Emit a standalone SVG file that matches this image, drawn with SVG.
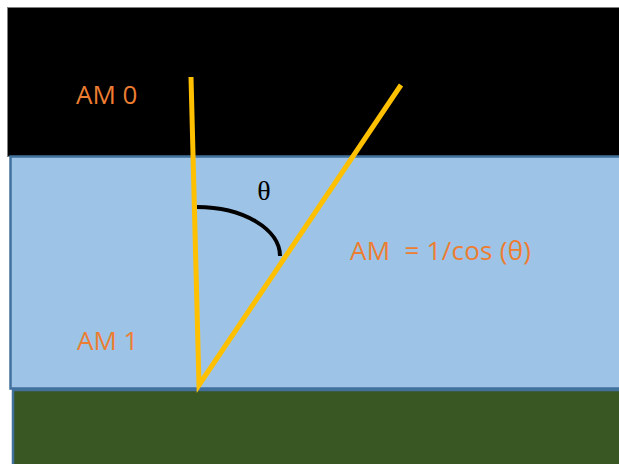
<svg xmlns="http://www.w3.org/2000/svg" width="619" height="464" viewBox="0 0 619 464">
<style>
.lbl{font-family:"Open Sans","Noto Sans","Liberation Sans",sans-serif;font-size:26px;fill:#ED7D31}
.ray{stroke:#FFC000;stroke-width:5;fill:none;stroke-linecap:butt}
.layer{stroke:#41719C;stroke-width:2.5}
</style>
<rect width="619" height="464" fill="#ffffff"/>
<g id="sky">
<rect x="7.5" y="7.5" width="620" height="149" fill="#000000" stroke="#7F7F7F" stroke-width="1"/>
<text class="lbl" x="76" y="104">AM 0</text>
</g>
<g id="atmosphere">
<rect class="layer" x="10.5" y="156.5" width="620" height="232" fill="#9DC3E6"/>
<text class="lbl" x="77" y="350">AM 1</text>
<text class="lbl" x="350" y="260" xml:space="preserve" textLength="181">AM  = 1/cos (θ)</text>
</g>
<g id="ground">
<rect class="layer" x="13" y="390" width="620" height="80" fill="#385723"/>
</g>
<g id="connectors">
<polyline class="ray" points="191,77 199,385 401,85" stroke-linejoin="miter"/>
<path d="M197,207 A83,49 0 0 1 280,256" fill="none" stroke="#000000" stroke-width="4"/>
<text x="264" y="200" text-anchor="middle" font-family="Liberation Serif, serif" font-size="28" fill="#000000">θ</text>
</g>
</svg>
